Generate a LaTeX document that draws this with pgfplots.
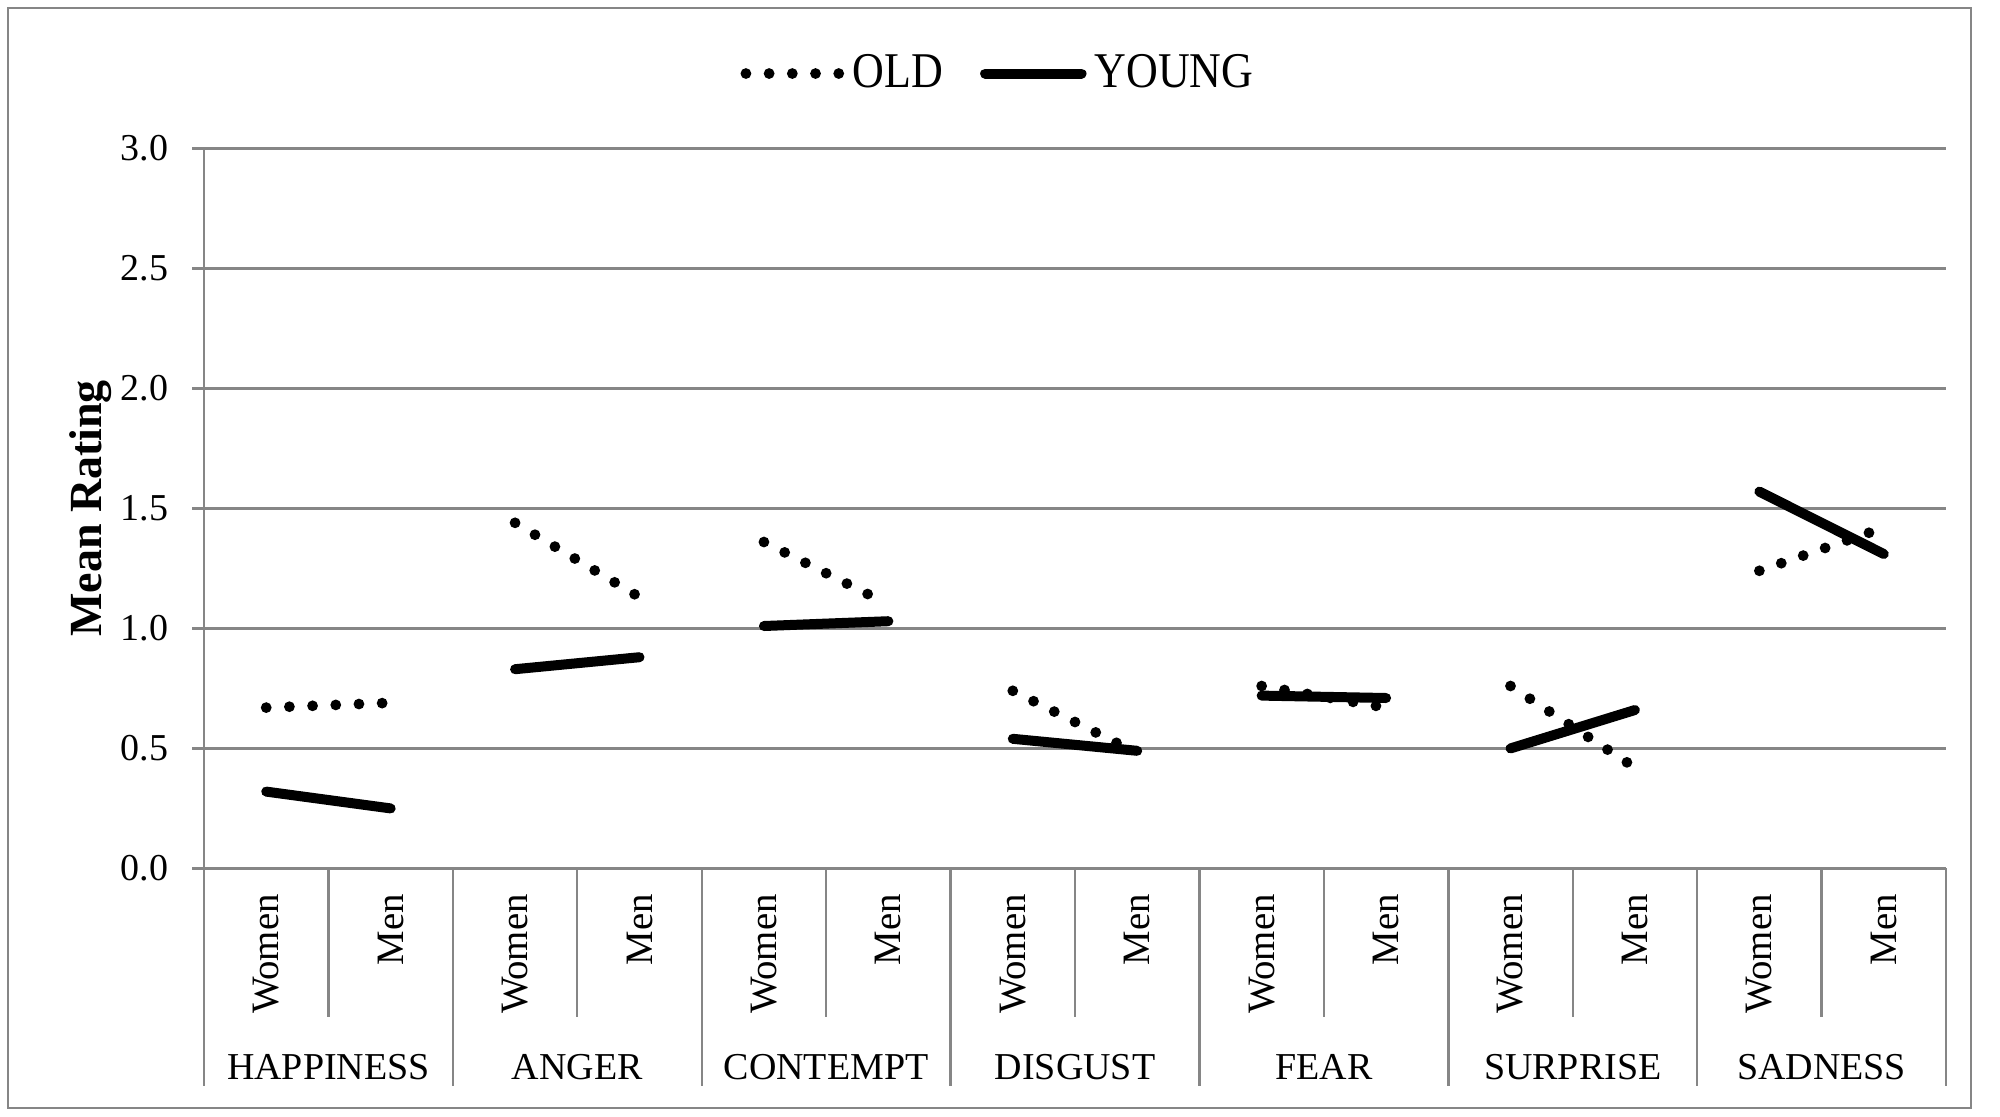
\documentclass[border=0pt]{standalone}
\usepackage{fontspec}
\setmainfont{Liberation Serif}
\newfontfamily\legfont[FakeStretch=0.88]{Liberation Serif}
\usepackage{pgfplots}
\pgfplotsset{compat=1.18}
\definecolor{gridgray}{HTML}{868686}

\begin{document}
\begin{tikzpicture}
\useasboundingbox (0pt,0pt) rectangle (500pt,279pt);
\draw[gridgray, line width=0.6pt] (2pt,2pt) rectangle (492.75pt,277pt);
\begin{axis}[
  at={(51pt,61.9pt)}, anchor=south west,
  scale only axis, width=435.5pt, height=180pt,
  xmin=-0.5, xmax=13.5, ymin=0, ymax=3,
  clip=false,
  axis x line*=bottom, axis y line*=left,
  axis line style={gridgray, line width=0.6pt},
  ytick={0,0.5,...,3},
  ymajorgrids, grid style={gridgray, line width=0.6pt},
  ytick align=outside, xtick align=inside, major tick length=2.9pt,
  ytick style={gridgray, line width=0.6pt},
  xtick={0,...,13},
  xticklabels={Women,Men,Women,Men,Women,Men,Women,Men,Women,Men,Women,Men,Women,Men},
  xtick style={draw=none},
  xticklabel style={rotate=90, anchor=east, inner sep=0pt, font=\fontsize{9.7}{11}\selectfont},
  xticklabel shift=6.25pt,
  /pgf/number format/assume math mode=true,
  yticklabel style={inner sep=0pt, font=\fontsize{9.5}{11}\selectfont,
    /pgf/number format/fixed, /pgf/number format/fixed zerofill, /pgf/number format/precision=1},
  yticklabel shift=5.85pt,
  ylabel={Mean Rating},
  ylabel style={font=\fontsize{11.5}{13}\selectfont\bfseries, at={(axis description cs:-0.0588,0.5)}, anchor=base},
  unbounded coords=jump,
  legend style={at={(axis description cs:0.4575,1.104)}, anchor=center, draw=none, fill=none,
    font=\legfont\fontsize{12.5}{14}\selectfont, legend columns=-1,
    /tikz/every even column/.append style={column sep=7.3pt}},
  legend cell align=left,
]
\addplot[black, line width=2.7pt, line cap=round, dash pattern=on 0pt off 5.8pt,
  legend image code/.code={\draw[black, line width=2.7pt, line cap=round, dash pattern=on 0pt off 5.8pt] (1.4pt,0pt) -- (24.7pt,0pt);}]
  coordinates {(0,0.67)(1,0.69)(1.5,nan)(2,1.44)(3,1.13)(3.5,nan)(4,1.36)(5,1.10)(5.5,nan)
  (6,0.74)(7,0.48)(7.5,nan)(8,0.76)(9,0.67)(9.5,nan)(10,0.76)(11,0.42)(11.5,nan)(12,1.24)(13,1.42)};
\addlegendentry{OLD}
\addplot[black, line width=2.5pt, line cap=round,
  legend image code/.code={\draw[black, line width=2.5pt, line cap=round] (1.3pt,0pt) -- (25.4pt,0pt);}]
  coordinates {(0,0.32)(1,0.25)(1.5,nan)(2,0.83)(3,0.88)(3.5,nan)(4,1.01)(5,1.03)(5.5,nan)
  (6,0.54)(7,0.49)(7.5,nan)(8,0.72)(9,0.71)(9.5,nan)(10,0.50)(11,0.66)(11.5,nan)(12,1.57)(13,1.31)};
\addlegendentry{YOUNG}
\pgfplotsinvokeforeach{0,...,6}{
  \draw[gridgray, line width=0.6pt] (axis cs:{2*#1+0.5},0) -- ++(0pt,-37.2pt);
}
\pgfplotsinvokeforeach{0,...,7}{
  \draw[gridgray, line width=0.6pt] (axis cs:{2*#1-0.5},0) -- ++(0pt,-54.5pt);
}
\node[anchor=base, font=\fontsize{9.5}{11}\selectfont, yshift=-52.75pt] at (axis cs:0.5,0) {HAPPINESS};
\node[anchor=base, font=\fontsize{9.5}{11}\selectfont, yshift=-52.75pt] at (axis cs:2.5,0) {ANGER};
\node[anchor=base, font=\fontsize{9.5}{11}\selectfont, yshift=-52.75pt] at (axis cs:4.5,0) {CONTEMPT};
\node[anchor=base, font=\fontsize{9.5}{11}\selectfont, yshift=-52.75pt] at (axis cs:6.5,0) {DISGUST};
\node[anchor=base, font=\fontsize{9.5}{11}\selectfont, yshift=-52.75pt] at (axis cs:8.5,0) {FEAR};
\node[anchor=base, font=\fontsize{9.5}{11}\selectfont, yshift=-52.75pt] at (axis cs:10.5,0) {SURPRISE};
\node[anchor=base, font=\fontsize{9.5}{11}\selectfont, yshift=-52.75pt] at (axis cs:12.5,0) {SADNESS};
\end{axis}
\end{tikzpicture}
\end{document}
